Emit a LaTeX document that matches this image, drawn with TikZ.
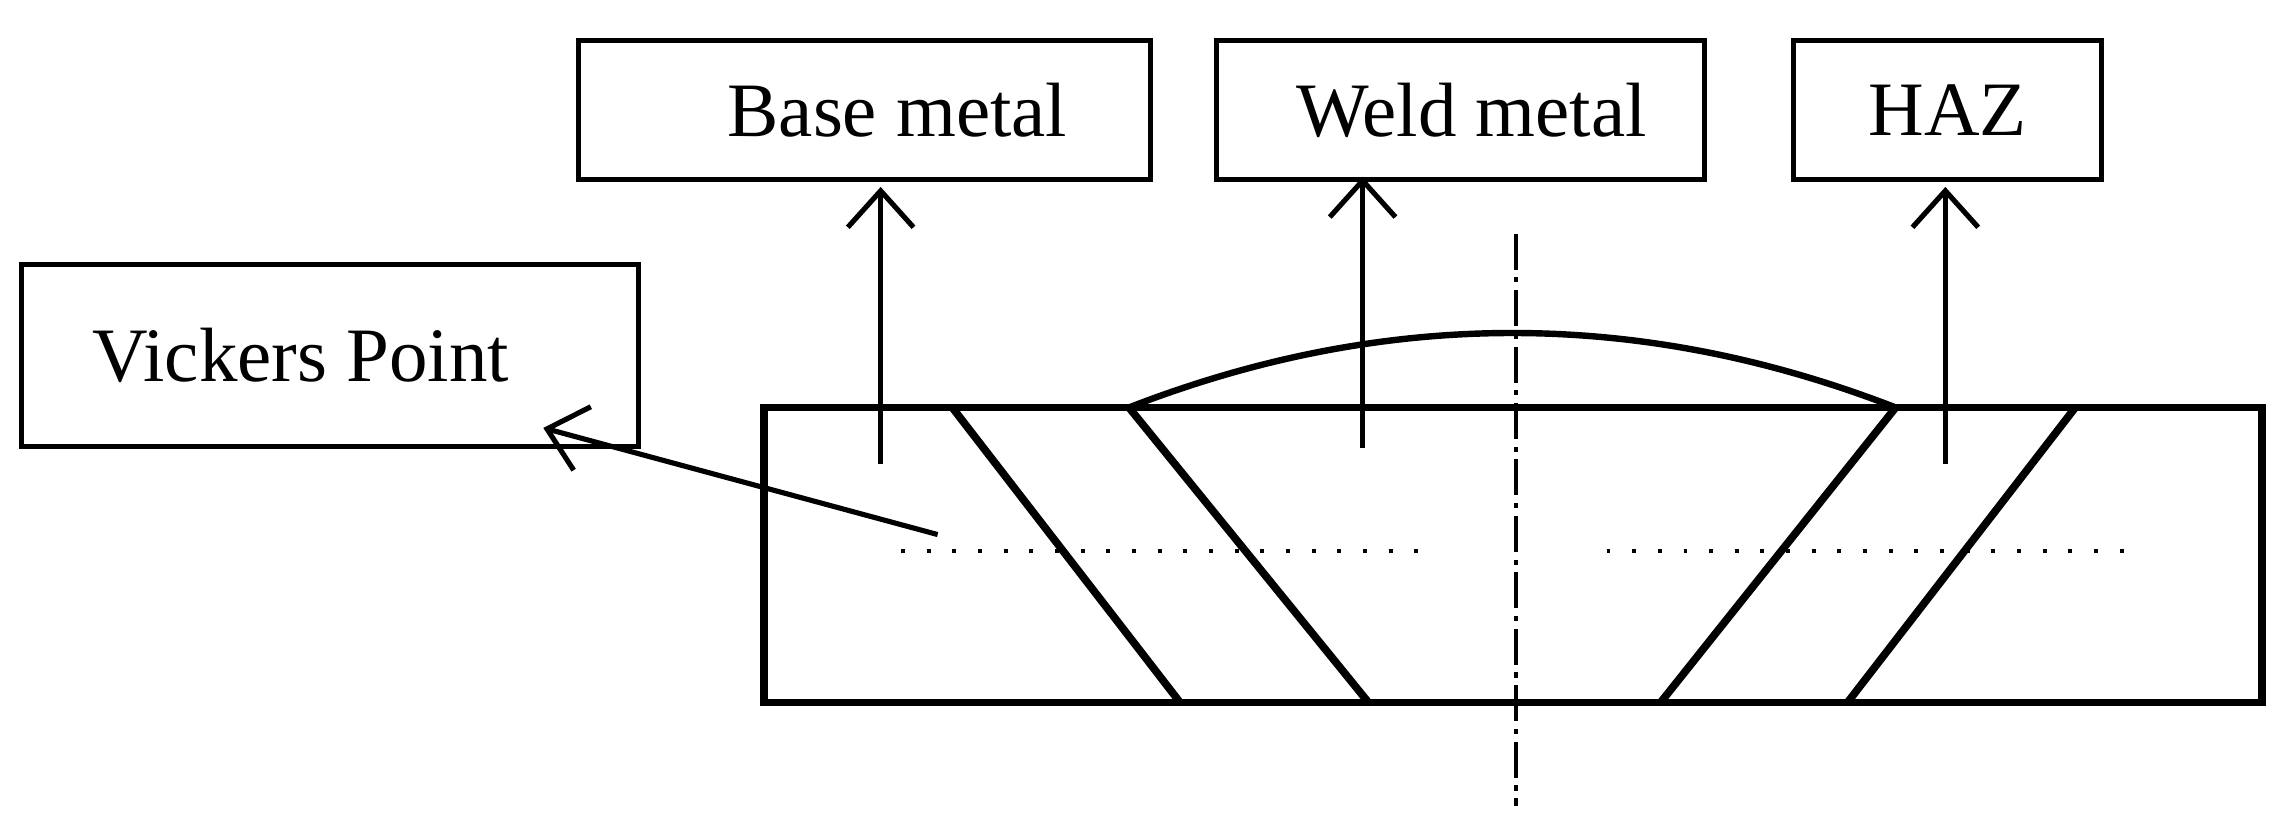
\documentclass[tikz,border=0pt]{standalone}
\usepackage{fontspec}
\setmainfont{Liberation Serif}
\usetikzlibrary{arrows.meta}
\begin{document}
\begin{tikzpicture}[x=0.02cm,y=-0.02cm,
  box/.style={draw,line width=2pt,minimum height=95*0.02cm,inner sep=0pt,font=\fontsize{30}{32}\selectfont},
  thick line/.style={line width=3pt},
  arr/.style={line width=2pt,-{Straight Barb[length=0.5cm,width=0.9cm,line width=2pt]}}]
\useasboundingbox (0,0) rectangle (1568,566);
\node[box,minimum width=392*0.02cm] (bm) at (592,75.5) {\hspace*{0.9cm}Base metal};
\node[box,minimum width=334*0.02cm] (wm) at (1000,75.5) {\hspace*{0.3cm}Weld metal};
\node[box,minimum width=211*0.02cm] (haz) at (1333.5,75.5) {HAZ};
\node[box,minimum width=422*0.02cm,minimum height=125*0.02cm] (vp) at (226,243.5) {Vickers Point\hspace*{0.8cm}};
\draw[thick line] (523,279) rectangle (1549,481);
\coordinate (a1) at (652,279); \coordinate (b1) at (808,481);
\coordinate (a2) at (773,279); \coordinate (b2) at (937,481);
\coordinate (a3) at (1298,279); \coordinate (b3) at (1137,481);
\coordinate (a4) at (1421,279); \coordinate (b4) at (1265,481);
\draw[thick line] (a1)--(b1) (a2)--(b2) (a3)--(b3) (a4)--(b4);
\draw[line width=2.5pt] (a2) .. controls (948,211) and (1123,211) .. (a3);
\draw[line width=1.3pt,dash pattern=on 14pt off 3pt on 2pt off 3pt] (1038,160)--(1038,552);
\draw[line width=1.5pt,dash pattern=on 1.5pt off 8.5pt] (617,377)--(972,377) (1100,377)--(1460,377);
\coordinate (s1) at (603,318); \coordinate (s2) at (933,307); \coordinate (s3) at (1332,318); \coordinate (s4) at (642,366);
\coordinate (t1) at (603,128); \coordinate (t2) at (933,121); \coordinate (t3) at (1332,128); \coordinate (t4) at (372,293);
\draw[arr] (s1)--(t1);
\draw[arr] (s2)--(t2);
\draw[arr] (s3)--(t3);
\draw[arr] (s4)--(t4);
\end{tikzpicture}
\end{document}
